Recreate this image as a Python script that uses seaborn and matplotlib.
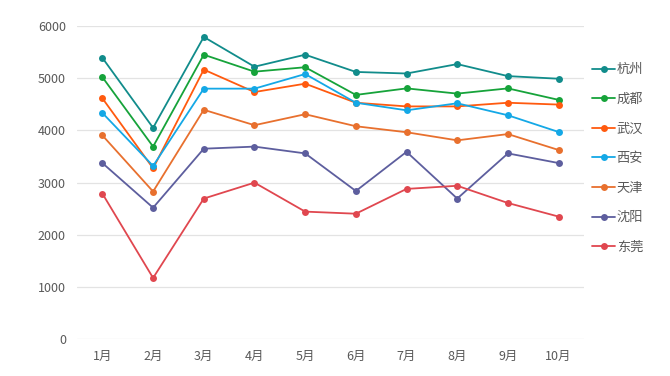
import matplotlib
matplotlib.use("Agg")
import matplotlib.pyplot as plt
import seaborn as sns
import pandas as pd
from matplotlib.lines import Line2D

months = ["1月", "2月", "3月", "4月", "5月", "6月", "7月", "8月", "9月", "10月"]
cities = ["杭州", "成都", "武汉", "西安", "天津", "沈阳", "东莞"]
hangzhou = [5390, 4050, 5790, 5220, 5450, 5120, 5090, 5270, 5040, 4990]
chengdu = [5020, 3690, 5450, 5125, 5210, 4680, 4805, 4705, 4805, 4585]
wuhan = [4615, 3275, 5165, 4735, 4895, 4530, 4460, 4460, 4530, 4495]
xian = [4335, 3320, 4800, 4800, 5080, 4530, 4385, 4520, 4290, 3970]
tianjin = [3905, 2830, 4395, 4100, 4310, 4080, 3965, 3810, 3930, 3625]
shenyang = [3375, 2520, 3650, 3690, 3560, 2840, 3590, 2695, 3560, 3375]
dongguan = [2790, 1175, 2695, 3000, 2445, 2405, 2880, 2940, 2610, 2350]
colors = ["#118C8B", "#16A33A", "#FF5A0F", "#14A8E6", "#E8702E", "#5D5E9E", "#E0474F"]

series = [hangzhou, chengdu, wuhan, xian, tianjin, shenyang, dongguan]
rows = []
for c, vals in zip(cities, series):
    for m, v in zip(months, vals):
        rows.append({"month": m, "city": c, "value": v})
df = pd.DataFrame(rows)

sns.set_theme(style="white")
plt.rcParams['font.family'] = ['Noto Sans CJK SC', 'DejaVu Sans']

fig = plt.figure(figsize=(6.7, 3.76), dpi=100)
ax = fig.add_axes([0.115, 0.0976, 0.7566, 0.8333])
sns.lineplot(data=df, x="month", y="value", hue="city", hue_order=cities,
             palette=colors, marker="o", markersize=5, markeredgewidth=0,
             linewidth=1.3, ax=ax, legend=False, sort=False)
ax.set_xlim(-0.5, 9.5)
ax.set_ylim(0, 6000)
ax.set_yticks([0, 1000, 2000, 3000, 4000, 5000, 6000])
ax.yaxis.grid(True, color="#E3E3E3", linewidth=0.9)
ax.set_axisbelow(True)
for s in ax.spines.values():
    s.set_visible(False)
ax.tick_params(axis="both", length=0, labelsize=9, colors="#595959", pad=8)
ax.set_xlabel("")
ax.set_ylabel("")

handles = [Line2D([0], [0], color=c, marker="o", markersize=5, markeredgewidth=0, linewidth=1.3)
           for c in colors]
leg = fig.legend(handles, cities, loc="upper left", bbox_to_anchor=(0.884, 0.832),
                 frameon=False, fontsize=9.5, labelspacing=1.26, handlelength=1.75,
                 handletextpad=0.1, borderpad=0, borderaxespad=0)
for t in leg.get_texts():
    t.set_color("#595959")

fig.savefig("out.png", dpi=100)
